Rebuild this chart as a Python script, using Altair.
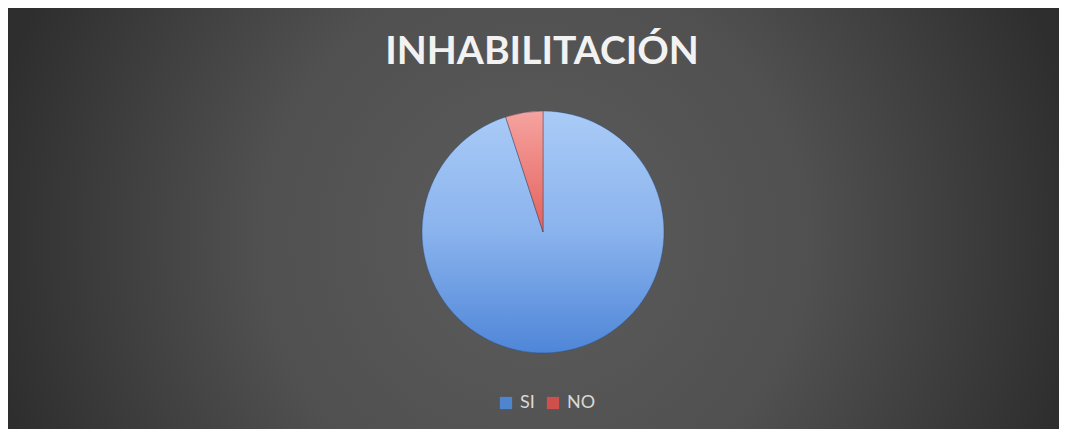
import altair as alt
import pandas as pd

# ---- data ----
categories = ["SI", "NO"]
values = [95, 5]
order_idx = [0, 1]
title_text = ["INHABILITACIÓN"]

W, H = 1051, 421

df = pd.DataFrame({"cat": categories, "value": values, "ord": order_idx})
tdf = pd.DataFrame({"t": title_text})
bg_df = pd.DataFrame({"k": [0]})

bg_grad = {
    "gradient": "radial",
    "x1": 0.5, "y1": 0.52, "r1": 0,
    "x2": 0.5, "y2": 0.52, "r2": 0.75,
    "stops": [
        {"offset": 0, "color": "#5c5c5c"},
        {"offset": 0.35, "color": "#505050"},
        {"offset": 0.7, "color": "#2e2e2e"},
        {"offset": 1, "color": "#252525"},
    ],
}

blue_grad = {
    "gradient": "linear", "x1": 0, "y1": 0, "x2": 0, "y2": 1,
    "stops": [
        {"offset": 0, "color": "#a9cbf7"},
        {"offset": 0.5, "color": "#8ab3ed"},
        {"offset": 1, "color": "#4f86d8"},
    ],
}
red_grad = {
    "gradient": "linear", "x1": 0, "y1": 0, "x2": 0, "y2": 1,
    "stops": [
        {"offset": 0, "color": "#f6a39f"},
        {"offset": 1, "color": "#e3615c"},
    ],
}

background = alt.Chart(bg_df).mark_rect(fill=bg_grad).encode(
    x=alt.value(0), x2=alt.value(W), y=alt.value(0), y2=alt.value(H)
)

cx, cy, R = 535, 224, 121

pie_base = alt.Chart(df).mark_arc(x=cx, y=cy, radius=R).encode(
    theta=alt.Theta("value:Q", stack=True),
    order=alt.Order("ord:Q"),
    color=alt.Color(
        "cat:N",
        scale=alt.Scale(domain=categories, range=["#4f85cf", "#cf4f4c"]),
        title=None,
        legend=alt.Legend(
            orient="none", legendX=489, legendY=386, direction="horizontal",
            symbolType="square", symbolSize=150, symbolOpacity=1,
            symbolStrokeWidth=0,
            labelFontSize=18, labelColor="#d9d9d9", labelFont="Lato",
            columnPadding=9, labelOffset=5, padding=0,
        ),
    ),
)

pie_top = alt.Chart(df).mark_arc(
    x=cx, y=cy, radius=R, stroke="#2a4468", strokeWidth=0.6, strokeOpacity=0.7
).encode(
    theta=alt.Theta("value:Q", stack=True),
    order=alt.Order("ord:Q"),
    color=alt.condition("datum.cat == 'SI'", alt.value(blue_grad), alt.value(red_grad)),
)

title = alt.Chart(tdf).mark_text(
    font="Lato", fontSize=39, fontWeight="bold", color="#f2f2f2",
    align="center", baseline="middle",
).encode(text="t:N", x=alt.value(534), y=alt.value(44))

chart = alt.layer(background, pie_base, pie_top, title).properties(
    width=W, height=H, padding=0, background="#ffffff"
).configure_view(strokeWidth=0)

chart.save("out.html", embed_options={"renderer": "svg", "actions": False})
